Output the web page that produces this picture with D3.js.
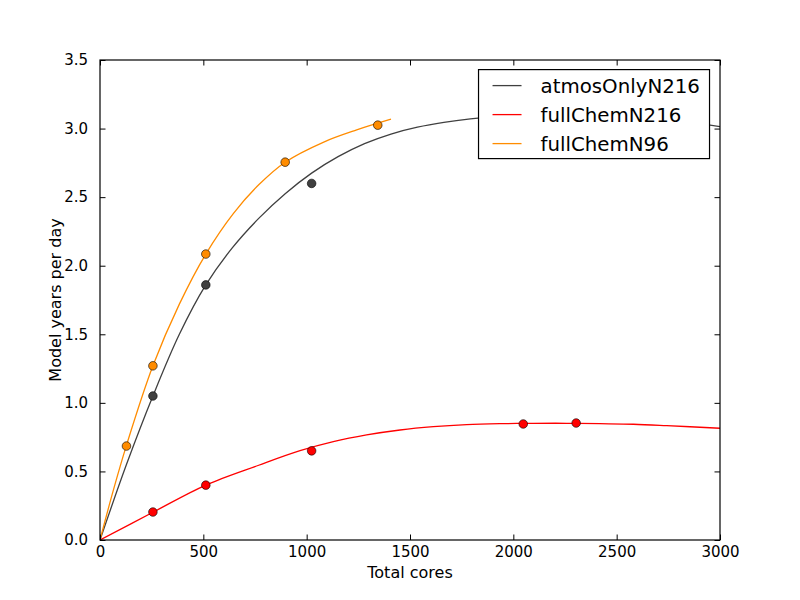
<!DOCTYPE html>
<html>
<head>
<meta charset="utf-8">
<script src="https://cdn.jsdelivr.net/npm/d3@7"></script>
<style>
    body { margin: 0; background: white; }
    text { font-family: "DejaVu Sans", sans-serif; fill: black; }
</style>
</head>
<body>
<div id="scalingChart"></div>
<script>
// Series names and colours
var seriesNames = ["atmosOnlyN216", "fullChemN216", "fullChemN96"];
var seriesColors = ["#404040", "#ff0000", "#ff8c00"];

// Measured runs (total cores, model years per day)
var atmosCores = [256, 512, 1024];
var atmosYears = [1.05, 1.86, 2.60];
var chemN216Cores = [256, 512, 1024, 2048, 2304];
var chemN216Years = [0.204, 0.40, 0.65, 0.846, 0.853];
var chemN96Cores = [128, 256, 512, 896, 1344];
var chemN96Years = [0.685, 1.27, 2.085, 2.755, 3.025];

// Fitted curves
var atmosFitCores = [0, 128, 256, 384, 512, 640, 768, 896, 1024, 1152, 1280, 1408, 1536, 1664, 1792, 1920, 2048, 2304, 2560, 2816, 3000];
var atmosFitYears = [0, 0.55, 1.05, 1.50, 1.86, 2.13, 2.345, 2.525, 2.675, 2.795, 2.89, 2.96, 3.01, 3.045, 3.07, 3.087, 3.097, 3.10, 3.088, 3.055, 3.014];
var chemN216FitCores = [0, 256, 512, 768, 968, 1129, 1290, 1452, 1613, 1774, 1935, 2097, 2258, 2419, 2581, 2742, 3000];
var chemN216FitYears = [0, 0.202, 0.40, 0.545, 0.651, 0.717, 0.766, 0.802, 0.826, 0.841, 0.848, 0.851, 0.851, 0.848, 0.844, 0.834, 0.815];
var chemN96FitCores = [0, 64, 128, 256, 384, 512, 645, 768, 896, 1080, 1242, 1408];
var chemN96FitYears = [0, 0.36, 0.69, 1.27, 1.72, 2.085, 2.38, 2.59, 2.755, 2.90, 2.99, 3.068];

// Axis ticks
var xTicks = [0, 500, 1000, 1500, 2000, 2500, 3000];
var yTicks = [0.0, 0.5, 1.0, 1.5, 2.0, 2.5, 3.0, 3.5];

var fitCores = [atmosFitCores, chemN216FitCores, chemN96FitCores];
var fitYears = [atmosFitYears, chemN216FitYears, chemN96FitYears];
var runCores = [atmosCores, chemN216Cores, chemN96Cores];
var runYears = [atmosYears, chemN216Years, chemN96Years];

/*   Define shape of chart   */
var margin = { top: 60, right: 80, bottom: 60, left: 100 },
    width = 800 - margin.left - margin.right,
    height = 600 - margin.top - margin.bottom;

var svg = d3.select("#scalingChart")
    .append("svg")
    .attr("width", 800)
    .attr("height", 600)
    .append("g")
    .attr("transform", "translate(" + margin.left + "," + margin.top + ")");

var x = d3.scaleLinear().domain([0, 3000]).range([0, width]);
var y = d3.scaleLinear().domain([0, 3.5]).range([height, 0]);

svg.append("clipPath").attr("id", "plotArea")
    .append("rect").attr("width", width).attr("height", height);

/*   Fitted lines   */
var line = d3.line()
    .x(function (d) { return x(d[0]) })
    .y(function (d) { return y(d[1]) })
    .curve(d3.curveCatmullRom.alpha(0.5));

seriesNames.forEach(function (name, i) {
    svg.append("path")
        .datum(d3.zip(fitCores[i], fitYears[i]))
        .attr("clip-path", "url(#plotArea)")
        .attr("fill", "none")
        .attr("stroke", seriesColors[i])
        .attr("stroke-width", 1.3)
        .attr("d", line);
});

/*   Measured points   */
seriesNames.forEach(function (name, i) {
    svg.append("g")
        .selectAll("circle")
        .data(d3.zip(runCores[i], runYears[i]))
        .enter()
        .append("circle")
        .attr("cx", function (d) { return x(d[0]) })
        .attr("cy", function (d) { return y(d[1]) })
        .attr("r", 4.3)
        .attr("fill", seriesColors[i])
        .attr("stroke", "#000")
        .attr("stroke-width", 0.6);
});

/*   Axes, ticks pointing inwards on all sides   */
var xAxisBottom = svg.append("g")
    .attr("transform", "translate(0," + height + ")")
    .call(d3.axisBottom(x).tickValues(xTicks).tickSizeInner(-5.5).tickSizeOuter(0).tickPadding(6)
        .tickFormat(d3.format("d")));
var xAxisTop = svg.append("g")
    .call(d3.axisTop(x).tickValues(xTicks).tickSizeInner(-5.5).tickSizeOuter(0).tickFormat(""));
var yAxisLeft = svg.append("g")
    .call(d3.axisLeft(y).tickValues(yTicks).tickSizeInner(-5.5).tickSizeOuter(0).tickPadding(12)
        .tickFormat(d3.format(".1f")));
var yAxisRight = svg.append("g")
    .attr("transform", "translate(" + width + ",0)")
    .call(d3.axisRight(y).tickValues(yTicks).tickSizeInner(-5.5).tickSizeOuter(0).tickFormat(""));

[xAxisBottom, xAxisTop, yAxisLeft, yAxisRight].forEach(function (ax) {
    ax.select(".domain").remove();
    ax.selectAll("line").attr("stroke", "#000").attr("stroke-width", 1);
    ax.selectAll("text").style("font-size", "15px").attr("fill", "#000");
});

svg.append("rect")
    .attr("width", width)
    .attr("height", height)
    .attr("fill", "none")
    .attr("stroke", "#000")
    .attr("stroke-width", 1.2);

/*   Axis labels   */
svg.append("text")
    .attr("x", width / 2)
    .attr("y", height + 38)
    .attr("text-anchor", "middle")
    .style("font-size", "16px")
    .text("Total cores");

svg.append("text")
    .attr("transform", "translate(-39," + (height / 2) + ") rotate(-90)")
    .attr("text-anchor", "middle")
    .style("font-size", "16px")
    .text("Model years per day");

/*   Legend   */
var legend = svg.append("g")
    .attr("transform", "translate(" + (x(1834) - 0.5) + "," + y(3.43) + ")");

legend.append("rect")
    .attr("width", 231)
    .attr("height", 89)
    .attr("fill", "white")
    .attr("stroke", "#000")
    .attr("stroke-width", 1.2);

seriesNames.forEach(function (name, i) {
    var row = legend.append("g").attr("transform", "translate(0," + (16 + i * 29) + ")");
    row.append("line")
        .attr("x1", 14).attr("x2", 43)
        .attr("stroke", seriesColors[i])
        .attr("stroke-width", 1.3);
    row.append("text")
        .attr("x", 62)
        .attr("y", 7)
        .style("font-size", "19.8px")
        .text(name);
});
</script>
</body>
</html>
